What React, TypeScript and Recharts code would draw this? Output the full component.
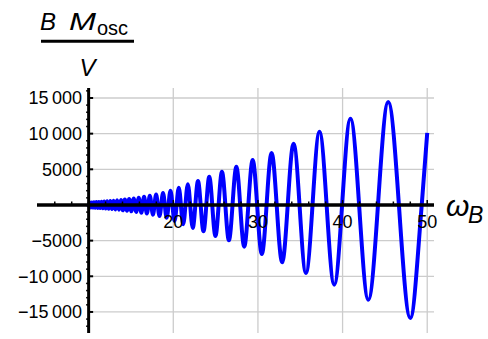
import { LineChart, Line, XAxis, YAxis, ReferenceLine } from 'recharts';

// extrema of the oscillation (ω_B, B·M_osc / V)
const omegaB = [
  10.0, 10.12, 10.24, 10.37, 10.5, 10.63, 10.77, 10.91, 11.06, 11.21, 11.36, 11.52, 11.68, 11.84,
  12.01, 12.19, 12.37, 12.56, 12.75, 12.95, 13.15, 13.36, 13.58, 13.81, 14.04, 14.28, 14.53, 14.79,
  15.05, 15.33, 15.62, 15.92, 16.23, 16.55, 16.88, 17.23, 17.6, 17.97, 18.37, 18.79, 19.22, 19.67,
  20.15, 20.65, 21.17, 21.72, 22.3, 22.92, 23.57, 24.25, 24.98, 25.75, 26.57, 27.45, 28.38, 29.38,
  30.46, 31.61, 32.86, 34.21, 35.67, 37.27, 39.01, 40.93, 43.04, 45.39, 48.0, 49.35, 50.0,
];
const bMoscOverV = [
  -330, 340, -350, 360, -370, 380, -390, 400, -415, 430, -440, 455, -470, 485,
  -500, 520, -540, 560, -580, 600, -625, 650, -680, 710, -740, 770, -800, 840,
  -880, 920, -970, 1020, -1080, 1140, -1210, 1290, -1370, 1460, -1560, 1670, -1800, 1980,
  -2250, 2400, -2700, 2900, -3220, 3350, -3700, 3950, -4350, 4650, -4950, 5350, -5850, 6300,
  -6870, 7300, -8030, 8600, -9530, 10250, -11170, 12100, -13280, 14450, -15840, 0, 10100,
];

const xTicks = [20, 30, 40, 50];
const xMinorTicks = [6, 8, 12, 14, 16, 18, 22, 24, 26, 28, 32, 34, 36, 38, 42, 44, 46, 48];
const yTicks = [-15000, -10000, -5000, 5000, 10000, 15000];
const yMinorTicks = [
  -17000, -16000, -14000, -13000, -12000, -11000, -9000, -8000, -7000, -6000, -4000, -3000, -2000, -1000,
  1000, 2000, 3000, 4000, 6000, 7000, 8000, 9000, 11000, 12000, 13000, 14000, 16000,
];

const W = 488;
const H = 339;
const margin = { top: 88, right: 54, bottom: 0, left: 0 };
const Y_AXIS_W = 37;
const X_AXIS_H = 6;
const X_DOMAIN: [number, number] = [3.9, 50.8];
const Y_DOMAIN: [number, number] = [-17950, 16400];
const AXIS_AT = 10;

const plotW = W - margin.left - Y_AXIS_W - margin.right;
const plotH = H - margin.top - margin.bottom - X_AXIS_H;
const pxX = plotW / (X_DOMAIN[1] - X_DOMAIN[0]);
const pxY = plotH / (Y_DOMAIN[1] - Y_DOMAIN[0]);
const zeroY = margin.top + Y_DOMAIN[1] * pxY;
const originX = margin.left + Y_AXIS_W + (AXIS_AT - X_DOMAIN[0]) * pxX;

const FONT = '"Liberation Sans", Arial, sans-serif';

const data = omegaB.map((w, i) => ({ omega: w, value: bMoscOverV[i] }));

const fmt = (v: number) => {
  const a = Math.abs(v);
  const s = a >= 10000 ? `${Math.floor(a / 1000)}\u2009${String(a % 1000).padStart(3, '0')}` : String(a);
  return v < 0 ? `\u2212${s}` : s;
};

const XTick = ({ x, payload }: any) => (
  <text x={x} y={zeroY + 23} textAnchor="middle" fontSize={18} fontFamily={FONT} fill="#000">
    {payload.value}
  </text>
);

const YTick = ({ y, payload }: any) => (
  <text x={originX - 6.5} y={y + 6.5} textAnchor="end" fontSize={18} fontFamily={FONT} fill="#000">
    {fmt(payload.value)}
  </text>
);

export default function App() {
  return (
    <div style={{ position: 'absolute', left: 0, top: 0, width: W, height: H, background: '#fff' }}>
      <LineChart width={W} height={H} data={data} margin={margin}>
        <XAxis
          dataKey="omega"
          type="number"
          domain={X_DOMAIN}
          allowDataOverflow
          ticks={xTicks}
          interval={0}
          height={X_AXIS_H}
          axisLine={false}
          tickLine={false}
          tick={<XTick />}
        />
        <YAxis
          type="number"
          domain={Y_DOMAIN}
          allowDataOverflow
          ticks={yTicks}
          interval={0}
          width={Y_AXIS_W}
          axisLine={false}
          tickLine={false}
          tick={<YTick />}
        />
        {xTicks.map((t) => (
          <ReferenceLine key={`gx${t}`} x={t} stroke="#cccccc" strokeWidth={1.3} />
        ))}
        {yTicks.map((t) => (
          <ReferenceLine
            key={`gy${t}`}
            segment={[{ x: AXIS_AT, y: t }, { x: X_DOMAIN[1], y: t }]}
            stroke="#cccccc"
            strokeWidth={1.3}
          />
        ))}
        <Line
          dataKey="value"
          type="monotone"
          stroke="#0000ff"
          strokeWidth={4}
          dot={false}
          isAnimationActive={false}
        />
        <ReferenceLine y={0} stroke="#000" strokeWidth={3.5} />
        <ReferenceLine x={AXIS_AT} stroke="#000" strokeWidth={3} />
        {xMinorTicks.map((t) => (
          <ReferenceLine key={`mx${t}`} segment={[{ x: t, y: 0 }, { x: t, y: 3.5 / pxY }]} stroke="#000" strokeWidth={1.5} />
        ))}
        {xTicks.map((t) => (
          <ReferenceLine key={`tx${t}`} segment={[{ x: t, y: 0 }, { x: t, y: 5 / pxY }]} stroke="#000" strokeWidth={1.5} />
        ))}
        {yMinorTicks.map((t) => (
          <ReferenceLine
            key={`my${t}`}
            segment={[{ x: AXIS_AT - 2.5 / pxX, y: t }, { x: AXIS_AT, y: t }]}
            stroke="#000"
            strokeWidth={1.5}
          />
        ))}
        {yTicks.map((t) => (
          <ReferenceLine
            key={`ty${t}`}
            segment={[{ x: AXIS_AT, y: t }, { x: AXIS_AT + 4.5 / pxX, y: t }]}
            stroke="#000"
            strokeWidth={2}
          />
        ))}
      </LineChart>
      <svg
        width={W}
        height={H}
        style={{ position: 'absolute', left: 0, top: 0, pointerEvents: 'none' }}
        fontFamily={FONT}
      >
        <text x={40} y={30} fontSize={24} fontStyle="italic" fill="#000">
          B
        </text>
        <text x={69} y={30} fontSize={24} fontStyle="italic" fill="#000" textLength={27} lengthAdjust="spacingAndGlyphs">
          M
        </text>
        <text x={97} y={35} fontSize={20} fill="#000">
          osc
        </text>
        <line x1={41} x2={134} y1={41.3} y2={41.3} stroke="#000" strokeWidth={3} />
        <text x={87.5} y={75.5} fontSize={24} fontStyle="italic" textAnchor="middle" fill="#000">
          V
        </text>
        <text x={446} y={216} fontSize={30} fontStyle="italic" fill="#000">
          ω
        </text>
        <text x={468} y={223} fontSize={23} fontStyle="italic" fill="#000">
          B
        </text>
      </svg>
    </div>
  );
}
